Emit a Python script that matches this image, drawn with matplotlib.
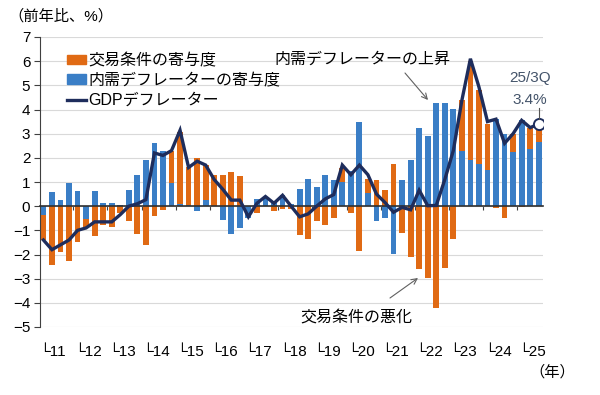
import matplotlib
matplotlib.use("Agg")
import matplotlib.pyplot as plt
from matplotlib.patches import Patch
from matplotlib.lines import Line2D
import numpy as np

plt.rcParams['font.family'] = ['Liberation Sans', 'DejaVu Sans', 'Noto Sans CJK JP']

# quarterly data 2011Q1 .. 2025Q3
years = ['11', '12', '13', '14', '15', '16', '17', '18', '19', '20', '21', '22', '23', '24', '25']
domestic = [-0.35, 0.60, 0.27, 0.96, 0.62, -0.55, 0.62, 0.12, 0.14, 0.05, 0.66, 1.30,
            1.93, 2.60, 2.30, 0.96, 0.07, 0.05, -0.20, 0.27, 0.02, -0.58, -1.16, -0.92,
            -0.47, 0.30, 0.38, 0.22, 0.46, 0.10, 0.72, 1.12, 0.78, 1.28, 1.10, 1.00,
            1.45, 3.50, 0.53, -0.63, -0.47, -1.97, 1.07, 1.92, 3.25, 2.90, 4.28, 4.28,
            4.02, 2.28, 1.92, 1.74, 1.49, 3.62, 3.00, 2.25, 3.55, 2.36, 2.66]
terms = [-1.05, -2.45, -1.90, -2.27, -1.50, -0.35, -1.25, -0.77, -0.87, -0.30, -0.62, -1.17,
         -1.60, -0.40, -0.14, 1.34, 3.00, 1.55, 2.00, 1.45, 1.28, 1.30, 1.40, 1.25,
         0.00, -0.28, 0.00, -0.18, -0.12, -0.10, -1.20, -1.37, -0.60, -0.78, -0.47, 0.60,
         -0.30, -1.85, 0.60, 1.07, 0.67, 1.74, -1.10, -2.12, -2.62, -2.96, -4.23, -2.55,
         -1.34, 2.12, 4.10, 3.06, 1.90, -0.08, -0.50, 0.75, -0.05, 0.88, 0.70]
gdp_deflator = [-1.40, -1.80, -1.60, -1.40, -1.00, -0.90, -0.65, -0.65, -0.65, -0.35, 0.00, 0.10,
                0.27, 2.20, 2.10, 2.30, 3.14, 1.60, 1.86, 1.70, 1.10, 0.70, 0.25, 0.25,
                -0.44, 0.12, 0.40, 0.12, 0.45, 0.00, -0.44, -0.32, 0.00, 0.30, 0.48, 1.70,
                1.30, 1.70, 1.30, 0.50, 0.15, -0.25, -0.05, -0.15, 0.66, 0.02, 0.03, 1.10,
                2.30, 4.38, 6.10, 4.93, 3.50, 3.60, 2.60, 3.00, 3.55, 3.25, 3.40]

ORANGE = '#E06A14'
BLUE = '#3A7EC6'
NAVY = '#1E2D5C'

W, H = 600, 395
fig = plt.figure(figsize=(W / 100, H / 100), dpi=100)
ax = fig.add_axes([40 / W, 1 - 327 / H, (543 - 40) / W, (327 - 37) / H])

x = np.arange(len(domestic))
dom = np.array(domestic)
tot = np.array(terms)
bottom_t = np.where(np.sign(dom) == np.sign(tot), dom, 0.0)

ax.bar(x, dom, width=0.68, color=BLUE, zorder=2)
ax.bar(x, tot, bottom=bottom_t, width=0.68, color=ORANGE, zorder=2)
ax.plot(x, gdp_deflator, color=NAVY, lw=2.4, zorder=4, solid_joinstyle='miter')
ax.plot(x[-1], gdp_deflator[-1], 'o', ms=8, mfc='white', mec=NAVY, mew=1.4, zorder=5)
ax.plot([x[-1], x[-1]], [gdp_deflator[-1] + 0.22, 4.05], color='#555555', lw=0.8, zorder=5)

ax.set_xlim(-0.4, 58.5)
ax.set_ylim(-5, 7)
ax.set_yticks(range(-5, 8))
ax.yaxis.grid(True, color='#D9D9D9', lw=0.8, zorder=0)
ax.set_axisbelow(True)
for s in ['top', 'right']:
    ax.spines[s].set_visible(False)
ax.spines['left'].set_color('#404040')
ax.spines['bottom'].set_position(('data', 0))
ax.spines['bottom'].set_color('#303030')
ax.spines['bottom'].set_linewidth(1.2)
ax.spines['bottom'].set_zorder(3)
ax.set_xticks([4 * k - 0.5 for k in range(1, 15)])
ax.tick_params(axis='x', length=3, color='#404040', labelbottom=False)
ax.tick_params(axis='y', length=4, color='#404040', labelsize=11, pad=3)

tr = ax.get_xaxis_transform()
for k, yr in enumerate(years):
    ax.text(4 * k - 0.45, -0.086, '└' + yr, transform=tr, ha='left', va='center', fontsize=11)

def fx(px):
    return px / W

def fy(py):
    return 1 - py / H

fig.text(fx(8), fy(16), '（前年比、%）', fontsize=11, ha='left', va='center')
fig.text(fx(552), fy(372), '（年）', fontsize=11, ha='center', va='center')

handles = [Patch(color=ORANGE), Patch(color=BLUE), Line2D([0], [0], color=NAVY, lw=2.4)]
labels = ['交易条件の寄与度', '内需デフレーターの寄与度', 'GDPデフレーター']
fig.legend(handles, labels, loc='upper left', bbox_to_anchor=(fx(67), fy(53)), frameon=False,
           fontsize=11.5, handlelength=1.2, handleheight=0.55, handletextpad=0.15,
           labelspacing=0.3, borderpad=0, borderaxespad=0)

fig.text(fx(362), fy(59), '内需デフレーターの上昇', fontsize=11.5, ha='center', va='center')
fig.text(fx(356), fy(318), '交易条件の悪化', fontsize=11.5, ha='center', va='center')
arrow = dict(arrowstyle='->', color='#606060', lw=0.8, shrinkA=0, shrinkB=0)
ax.annotate('', xy=(fx(428), fy(100)), xytext=(fx(405), fy(73)),
            xycoords='figure fraction', textcoords='figure fraction', arrowprops=arrow)
ax.annotate('', xy=(fx(418), fy(278)), xytext=(fx(390), fy(298)),
            xycoords='figure fraction', textcoords='figure fraction', arrowprops=arrow)

fig.text(fx(530), fy(78), '25/3Q', fontsize=11, ha='center', va='center', color='#44546A')
fig.text(fx(530), fy(100), '3.4%', fontsize=11, ha='center', va='center', color='#44546A')

fig.savefig('out.png', dpi=100)
